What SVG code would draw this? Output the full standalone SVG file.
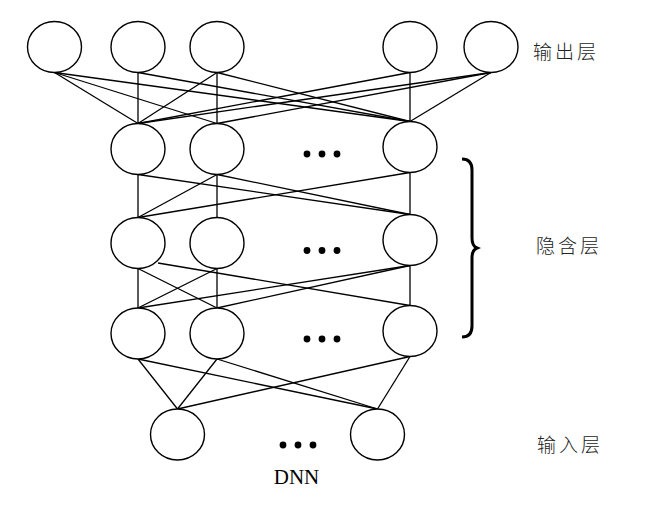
<svg xmlns="http://www.w3.org/2000/svg" width="653" height="506" viewBox="0 0 653 506">
<style>
.n{fill:#fff;stroke:#000;stroke-width:1.4}
.e line{stroke:#000;stroke-width:1.3}
.d{fill:#000}
.cn{font-family:"Noto Sans CJK SC",sans-serif;font-size:19px;font-weight:300;fill:#222;letter-spacing:3px}
.en{font-family:"Liberation Serif",serif;font-size:21px;fill:#000}
</style>
<rect width="653" height="506" fill="#fff"/>
<g id="connectors" class="e">
<line x1="54.5" y1="72.5" x2="138" y2="123.5"/>
<line x1="54.5" y1="72.5" x2="217" y2="123.5"/>
<line x1="54.5" y1="72.5" x2="410" y2="121.5"/>
<line x1="138" y1="72.5" x2="138" y2="123.5"/>
<line x1="138" y1="72.5" x2="410" y2="121.5"/>
<line x1="217" y1="72.5" x2="138" y2="123.5"/>
<line x1="217" y1="72.5" x2="217" y2="123.5"/>
<line x1="217" y1="72.5" x2="410" y2="121.5"/>
<line x1="410" y1="72.5" x2="138" y2="123.5"/>
<line x1="410" y1="72.5" x2="410" y2="121.5"/>
<line x1="491" y1="72.5" x2="138" y2="123.5"/>
<line x1="491" y1="72.5" x2="217" y2="123.5"/>
<line x1="491" y1="72.5" x2="410" y2="121.5"/>
<line x1="138" y1="174.5" x2="138" y2="217.5"/>
<line x1="138" y1="174.5" x2="410" y2="214.5"/>
<line x1="217" y1="174.5" x2="138" y2="217.5"/>
<line x1="217" y1="174.5" x2="217" y2="217.5"/>
<line x1="217" y1="174.5" x2="410" y2="214.5"/>
<line x1="410" y1="172.5" x2="138" y2="217.5"/>
<line x1="410" y1="172.5" x2="410" y2="214.5"/>
<line x1="138" y1="268.5" x2="138" y2="308"/>
<line x1="138" y1="268.5" x2="217" y2="308"/>
<line x1="158" y1="263" x2="410" y2="305.5"/>
<line x1="217" y1="268.5" x2="138" y2="308"/>
<line x1="217" y1="268.5" x2="217" y2="308"/>
<line x1="410" y1="265.5" x2="138" y2="308"/>
<line x1="410" y1="265.5" x2="217" y2="308"/>
<line x1="410" y1="265.5" x2="410" y2="305.5"/>
<line x1="138" y1="359" x2="177.5" y2="409"/>
<line x1="138" y1="359" x2="377.5" y2="409"/>
<line x1="217" y1="359" x2="177.5" y2="409"/>
<line x1="217" y1="359" x2="377.5" y2="409"/>
<line x1="410" y1="356.5" x2="177.5" y2="409"/>
<line x1="410" y1="356.5" x2="377.5" y2="409"/>
</g>
<g id="out1"><ellipse class="n" cx="54.5" cy="47" rx="27" ry="25.5"/></g>
<g id="out2"><ellipse class="n" cx="138" cy="47" rx="27" ry="25.5"/></g>
<g id="out3"><ellipse class="n" cx="217" cy="47" rx="27" ry="25.5"/></g>
<g id="out4"><ellipse class="n" cx="410" cy="47" rx="27" ry="25.5"/></g>
<g id="out5"><ellipse class="n" cx="491" cy="47" rx="27" ry="25.5"/></g>
<g id="h1a"><ellipse class="n" cx="138" cy="149" rx="27" ry="25.5"/></g>
<g id="h1b"><ellipse class="n" cx="217" cy="149" rx="27" ry="25.5"/></g>
<g id="h1c"><ellipse class="n" cx="410" cy="147" rx="27" ry="25.5"/></g>
<g id="h2a"><ellipse class="n" cx="138" cy="243" rx="27" ry="25.5"/></g>
<g id="h2b"><ellipse class="n" cx="217" cy="243" rx="27" ry="25.5"/></g>
<g id="h2c"><ellipse class="n" cx="410" cy="240" rx="27" ry="25.5"/></g>
<g id="h3a"><ellipse class="n" cx="138" cy="333.5" rx="27" ry="25.5"/></g>
<g id="h3b"><ellipse class="n" cx="217" cy="333.5" rx="27" ry="25.5"/></g>
<g id="h3c"><ellipse class="n" cx="410" cy="331" rx="27" ry="25.5"/></g>
<g id="in1"><ellipse class="n" cx="177.5" cy="434.5" rx="27" ry="25.5"/></g>
<g id="in2"><ellipse class="n" cx="377.5" cy="434.5" rx="27" ry="25.5"/></g>
<g id="dots" class="d">
<circle cx="307" cy="154" r="3.4"/><circle cx="322" cy="154" r="3.4"/><circle cx="337" cy="154" r="3.4"/>
<circle cx="307" cy="250.5" r="3.4"/><circle cx="322" cy="250.5" r="3.4"/><circle cx="337" cy="250.5" r="3.4"/>
<circle cx="307" cy="339" r="3.4"/><circle cx="322" cy="339" r="3.4"/><circle cx="337" cy="339" r="3.4"/>
<circle cx="283" cy="445" r="3.4"/><circle cx="298" cy="445" r="3.4"/><circle cx="313" cy="445" r="3.4"/>
</g>
<g id="brace"><path d="M462,159 Q472,159 472,170 L472,238 Q472,246 477,248 Q472,250 472,258 L472,326 Q472,337 462,337" fill="none" stroke="#000" stroke-width="3"/></g>
<g id="labels">
<text class="cn" x="533" y="59">输出层</text>
<text class="cn" x="536" y="253">隐含层</text>
<text class="cn" x="537" y="452">输入层</text>
<text class="en" x="296.5" y="484" text-anchor="middle">DNN</text>
</g>
</svg>
